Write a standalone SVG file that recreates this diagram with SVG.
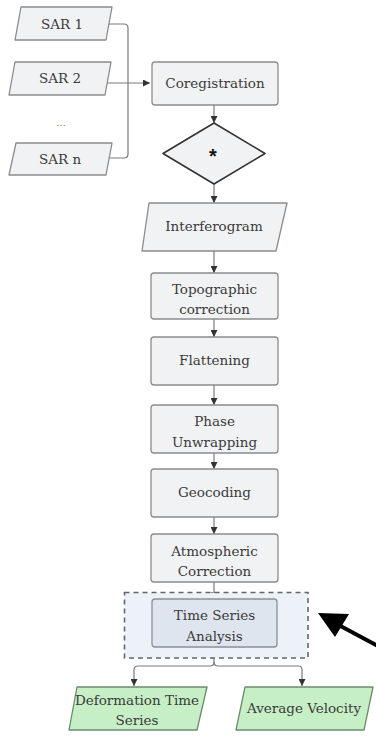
<svg xmlns="http://www.w3.org/2000/svg" width="376" height="736" viewBox="0 0 376 736">
<defs>
<marker id="ah" viewBox="0 0 10 10" refX="10" refY="5" markerWidth="7" markerHeight="7" orient="auto" markerUnits="userSpaceOnUse">
<path d="M0,0 L10,5 L0,10 z" fill="#333"/>
</marker>
<style>
.n{fill:#f1f2f4;stroke:#8c8c8c;stroke-width:1.3;stroke-linejoin:round}
.g{fill:#c6efc6;stroke:#6e8a6e;stroke-width:1.3;stroke-linejoin:round}
.t{font-family:"DejaVu Serif",serif;font-size:13.5px;fill:#3a3a3a;text-anchor:middle}
.c{fill:none;stroke:#7a7a7a;stroke-width:1.2}
.ca{fill:none;stroke:#7a7a7a;stroke-width:1.2;marker-end:url(#ah)}
</style>
</defs>
<rect width="376" height="736" fill="#ffffff"/>
<g id="connectors">
<path class="c" d="M109,24 H124 Q128,24 128,28 V154 Q128,158 124,158 H108"/>
<path class="ca" d="M107,83 H150"/>
<path class="ca" d="M214,105 V123"/>
<path class="ca" d="M214,184 V203"/>
<path class="ca" d="M214,251 V273"/>
<path class="ca" d="M214,319 V337"/>
<path class="ca" d="M214,385 V405"/>
<path class="ca" d="M214,453 V469"/>
<path class="ca" d="M214,517 V534"/>
<path class="ca" d="M214,582 V599"/>
<path class="ca" d="M214,647 V662 Q214,666 210,666 H138 Q134,666 134,670 V686"/>
<path class="ca" d="M214,662 Q214,666 218,666 H298 Q302,666 302,670 V686"/>
</g>
<g id="sar1"><path class="n" d="M21,7 H112 L106,40 H15 Z"/><text class="t" x="62" y="29">SAR 1</text></g>
<g id="sar2"><path class="n" d="M15,62 H111 L105,95 H9 Z"/><text class="t" x="60" y="83">SAR 2</text></g>
<g id="dots"><text class="t" x="61" y="126" style="font-size:10px;fill:#777">...</text></g>
<g id="sarn"><path class="n" d="M16,143 H112 L106,175 H9 Z"/><text class="t" x="60" y="164">SAR n</text></g>
<g id="coreg"><rect class="n" x="152" y="62" width="126" height="43" rx="3"/><text class="t" x="215" y="88">Coregistration</text></g>
<g id="decision"><path d="M214,123 L265,153.5 L214,184 L163,153.5 Z" fill="#f1f2f4" stroke="#333" stroke-width="1.6" stroke-linejoin="round"/><text x="213" y="163" style="font-family:'Liberation Sans',sans-serif;font-size:20px;font-weight:bold;fill:#111;text-anchor:middle">*</text></g>
<g id="interferogram"><path class="n" d="M149,203 H287 L276,251 H142 Z"/><text class="t" x="214" y="231">Interferogram</text></g>
<g id="topo"><rect class="n" x="151" y="273" width="127" height="46" rx="3"/><text class="t" x="214.5" y="294">Topographic</text><text class="t" x="214.5" y="314">correction</text></g>
<g id="flat"><rect class="n" x="151" y="337" width="127" height="48" rx="3"/><text class="t" x="214.5" y="365">Flattening</text></g>
<g id="unwrap"><rect class="n" x="151" y="405" width="127" height="48" rx="3"/><text class="t" x="214.5" y="426">Phase</text><text class="t" x="214.5" y="447">Unwrapping</text></g>
<g id="geocode"><rect class="n" x="151" y="469" width="127" height="48" rx="3"/><text class="t" x="214.5" y="497">Geocoding</text></g>
<g id="atmo"><rect class="n" x="151" y="534" width="127" height="48" rx="3"/><text class="t" x="214.5" y="556">Atmospheric</text><text class="t" x="214.5" y="576">Correction</text></g>
<g id="tsa-group"><rect x="124.5" y="592.5" width="183.5" height="65.5" fill="#edf2f9" stroke="#666" stroke-width="1.6" stroke-dasharray="5,4"/></g>
<g id="tsa"><rect x="152" y="599" width="125" height="48" rx="3" fill="#dfe5ee" stroke="#8a8f99" stroke-width="1.3"/><text class="t" x="214.5" y="620">Time Series</text><text class="t" x="214.5" y="641">Analysis</text></g>
<g id="deformation"><path class="g" d="M77,687 H207 L197,730 H69 Z"/><text class="t" x="137" y="705">Deformation Time</text><text class="t" x="137" y="725">Series</text></g>
<g id="velocity"><path class="g" d="M245,687 H373 L364,730 H236 Z"/><text class="t" x="304" y="713">Average Velocity</text></g>
<g id="pointer"><line x1="378" y1="646" x2="333" y2="622" stroke="#000" stroke-width="4"/><path d="M318,613 L349,614 L335,637 Z" fill="#000"/></g>
</svg>
